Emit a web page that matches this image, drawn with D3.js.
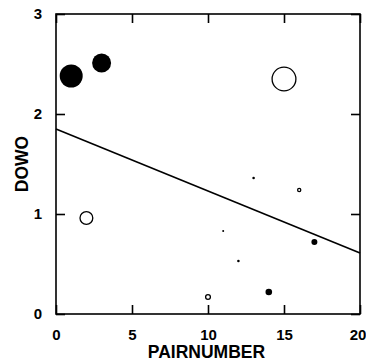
<!DOCTYPE html>
<html><head><meta charset="utf-8">
<script src="https://cdn.jsdelivr.net/npm/d3@7"></script>
<style>
html,body{margin:0;padding:0;background:#fff;}
svg{display:block;}
text{font-family:"Liberation Sans",Arial,sans-serif;fill:#000;}
</style></head>
<body>
<script>
// Data
const pairNumber = [1, 3, 15, 2, 13, 16, 11, 12, 17, 14, 10];
const dowo       = [2.38, 2.51, 2.35, 0.96, 1.36, 1.24, 0.83, 0.53, 0.72, 0.22, 0.17];
const markerSize = [11.5, 9.5, 12.5, 7, 1.3, 2.2, 1, 1.3, 3, 3.3, 3];
const filled     = [true, true, false, false, true, false, true, true, true, true, false];
const fitLineX = [0, 20];
const fitLineY = [1.85, 0.61];
const xTicks = [0, 5, 10, 15, 20];
const yTicks = [0, 1, 2, 3];
const xLabel = "PAIRNUMBER";
const yLabel = "DOWO";

const W = 366, H = 364;
const m = {left: 56, right: 6, top: 14, bottom: 50};
const svg = d3.select("body").append("svg").attr("width", W).attr("height", H);

const x = d3.scaleLinear().domain([0, 20]).range([m.left, W - m.right]);
const y = d3.scaleLinear().domain([0, 3]).range([H - m.bottom, m.top]);

const tickLen = 9;
const g = svg.append("g");

// Frame
g.append("rect").attr("x", x(0)).attr("y", y(3)).attr("width", x(20) - x(0)).attr("height", y(0) - y(3))
  .attr("fill", "none").attr("stroke", "#000").attr("stroke-width", 1.6);

// Axes with inward ticks
const axBottom = g.append("g").attr("transform", `translate(0,${y(0)})`)
  .call(d3.axisBottom(x).tickValues(xTicks).tickSize(-tickLen).tickPadding(tickLen + 6).tickFormat(d3.format("d")));
const axLeft = g.append("g").attr("transform", `translate(${x(0)},0)`)
  .call(d3.axisLeft(y).tickValues(yTicks).tickSize(-tickLen).tickPadding(tickLen + 5).tickFormat(d3.format("d")));
const axTop = g.append("g").attr("transform", `translate(0,${y(3)})`)
  .call(d3.axisTop(x).tickValues(xTicks).tickSize(-tickLen).tickFormat(""));
const axRight = g.append("g").attr("transform", `translate(${x(20)},0)`)
  .call(d3.axisRight(y).tickValues(yTicks).tickSize(-tickLen).tickFormat(""));

[axBottom, axLeft, axTop, axRight].forEach(a => {
  a.select(".domain").remove();
  a.selectAll(".tick line").attr("stroke", "#000").attr("stroke-width", 1.6);
});
axBottom.selectAll(".tick text").attr("font-size", 15).attr("font-weight", "bold")
  .attr("font-family", "'Liberation Sans',Arial,sans-serif")
  .attr("dx", d => d === 20 ? -2.5 : 0);
axLeft.selectAll(".tick text").attr("font-size", 15).attr("font-weight", "bold")
  .attr("font-family", "'Liberation Sans',Arial,sans-serif");

// Fit line
g.append("line").attr("x1", x(fitLineX[0])).attr("y1", y(fitLineY[0]))
  .attr("x2", x(fitLineX[1])).attr("y2", y(fitLineY[1]))
  .attr("stroke", "#000").attr("stroke-width", 1.6);

// Points
const pts = pairNumber.map((p, i) => ({p, v: dowo[i], r: markerSize[i], f: filled[i]}));
g.selectAll("circle.pt").data(pts).enter().append("circle").attr("class", "pt")
  .attr("cx", d => x(d.p)).attr("cy", d => y(d.v))
  .attr("r", d => d.f ? d.r : d.r - 0.6)
  .attr("fill", d => d.f ? "#000" : "#fff")
  .attr("stroke", "#000").attr("stroke-width", d => d.f ? 0 : 1.3);

// Labels
svg.append("text").attr("x", 206.5).attr("y", 358).attr("text-anchor", "middle")
  .attr("font-size", 17.5).attr("font-weight", "bold").text(xLabel);
svg.append("text").attr("transform", "translate(27.5,164) rotate(-90)").attr("text-anchor", "middle")
  .attr("font-size", 17.5).attr("font-weight", "bold").text(yLabel);
</script>
</body></html>
